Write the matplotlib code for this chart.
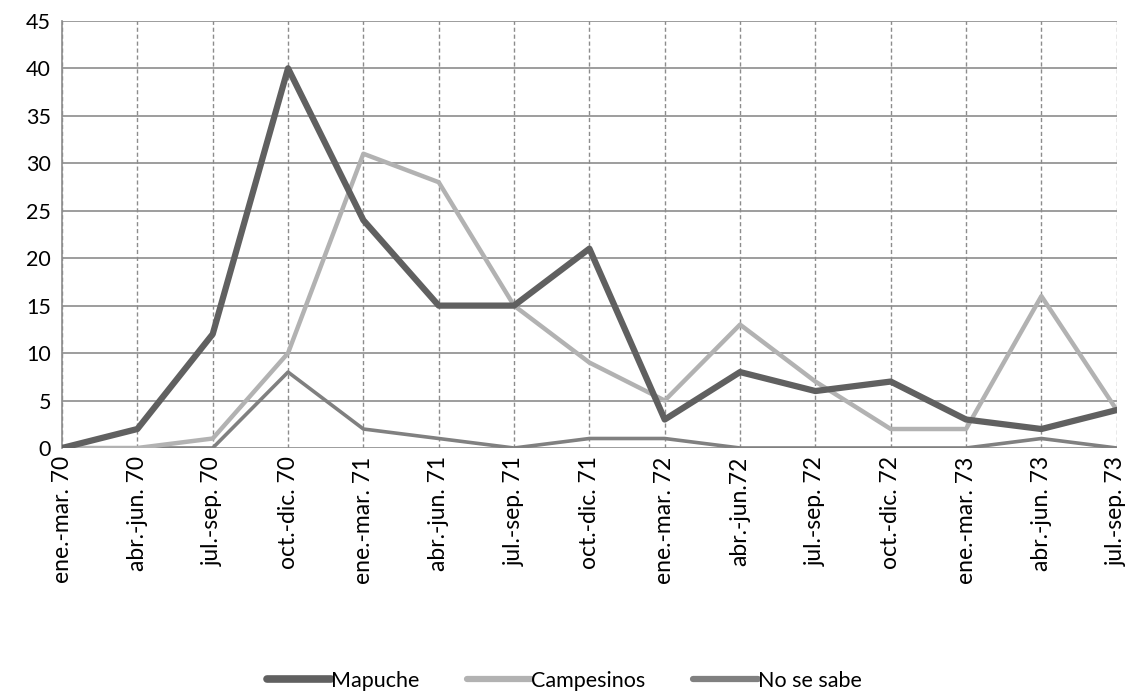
import matplotlib
matplotlib.use('Agg')
import matplotlib.pyplot as plt

periodos = ['ene.-mar. 70', 'abr.-jun. 70', 'jul.-sep. 70', 'oct.-dic. 70',
            'ene.-mar. 71', 'abr.-jun. 71', 'jul.-sep. 71', 'oct.-dic. 71',
            'ene.-mar. 72', 'abr.-jun.72', 'jul.-sep. 72', 'oct.-dic. 72',
            'ene.-mar. 73', 'abr.-jun. 73', 'jul.-sep. 73']
mapuche = [0, 2, 12, 40, 24, 15, 15, 21, 3, 8, 6, 7, 3, 2, 4]
campesinos = [0, 0, 1, 10, 31, 28, 15, 9, 5, 13, 7, 2, 2, 16, 4]
no_se_sabe = [0, 0, 0, 8, 2, 1, 0, 1, 1, 0, 0, 0, 0, 1, 0]

plt.rcParams['font.family'] = ['Lato', 'DejaVu Sans']

fig = plt.figure(figsize=(11.28, 6.95), dpi=100)
ax = fig.add_axes([0.055, 0.3554, 0.935, 0.6146])

x = range(len(periodos))
ax.plot(x, mapuche, color='#606060', lw=4.5, label='Mapuche', solid_capstyle='round', zorder=5)
ax.plot(x, campesinos, color='#b2b2b2', lw=3.2, label='Campesinos', solid_capstyle='round', zorder=4)
ax.plot(x, no_se_sabe, color='#808080', lw=2.6, label='No se sabe', solid_capstyle='round', zorder=3)

ax.set_xlim(0, len(periodos) - 1)
ax.set_ylim(0, 45)
ax.set_yticks(range(0, 46, 5))
ax.set_xticks(list(x))
ax.set_xticklabels(periodos, rotation=90)
ax.tick_params(axis='y', length=0, labelsize=15.5, colors='black', pad=8)
ax.tick_params(axis='x', length=0, labelsize=16.5, colors='black', pad=6)

ax.grid(axis='y', color='#8c8c8c', lw=1.2, ls='-')
ax.grid(axis='x', color='#8c8c8c', lw=1.0, ls=(0, (3, 2)))
ax.set_axisbelow(True)
for side in ['top', 'right', 'bottom']:
    ax.spines[side].set_visible(False)
ax.spines['left'].set_color('#8c8c8c')
ax.spines['left'].set_linewidth(1.2)

leg = fig.legend(loc='lower center', bbox_to_anchor=(0.5, -0.022), ncol=3, frameon=False,
                 fontsize=15.5, handlelength=3.0, handletextpad=0.0, columnspacing=2.2)
for h, w in zip(leg.get_lines(), [5.5, 4.5, 4.5]):
    h.set_linewidth(w)

plt.savefig('out.png', dpi=100)
